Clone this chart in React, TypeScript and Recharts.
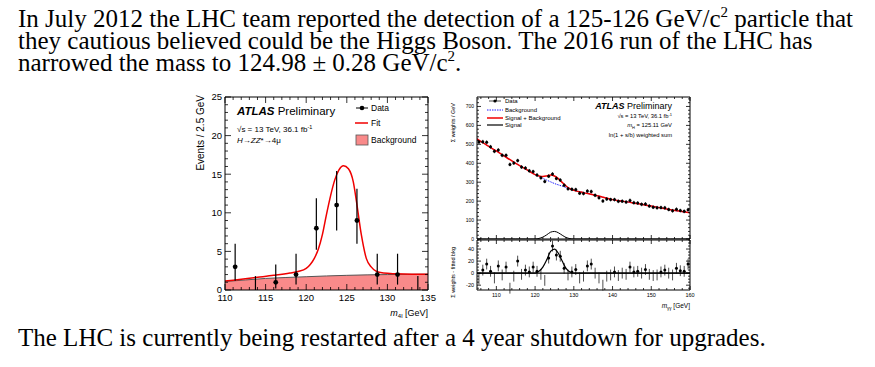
import React from "react";
import { ComposedChart, Line, Area, Scatter, XAxis, YAxis, ErrorBar, ReferenceLine } from "recharts";

const SANS = "'Liberation Sans', Arial, sans-serif";
const SERIF = "'Liberation Serif', 'Times New Roman', serif";

// ---- left panel: H -> ZZ* -> 4mu ----
const zzMass = [111.25, 113.75, 116.25, 118.75, 121.25, 123.75, 126.25, 128.75, 131.25, 133.75];
const zzEvents = [3, 0, 1, 2, 8, 11, 9, 2, 2, 0];
const zzErrLow = [1.8, 0, 0.8, 1.3, 2.8, 3.3, 3, 1.3, 1.3, 0];
const zzErrHigh = [3, 1.8, 2.3, 2.7, 3.9, 4.4, 4.1, 2.7, 2.7, 1.8];

const zzFitMass = [110, 112, 114, 116, 118, 119, 120, 120.5, 121, 121.5, 122, 122.5, 123, 123.5, 124, 124.6, 125.2, 125.8, 126.2, 126.8, 127.4, 128, 128.6, 129.5, 131, 133, 135];
const zzFit = [1.15, 1.4, 1.65, 1.9, 2.2, 2.4, 2.8, 3.3, 4.1, 5.3, 7.2, 9.8, 12.2, 14.2, 15.5, 16.1, 15.7, 14, 11.4, 7.1, 4.1, 3, 2.45, 2.2, 2.1, 2.05, 2.05];

const zzBkgMass = [110, 112.5, 115, 117.5, 120, 122.5, 125, 127.5, 130, 132.5, 135];
const zzBkg = [1.1, 1.3, 1.5, 1.62, 1.72, 1.82, 1.9, 1.96, 2.0, 2.03, 2.05];

const zzXMajor = [110, 115, 120, 125, 130, 135];
const zzYMajor = [0, 5, 10, 15, 20, 25];

// ---- right panel: H -> gamma gamma weighted ----
const ggMass = [105.5, 106.5, 107.5, 108.5, 109.5, 110.5, 111.5, 112.5, 113.5, 114.5, 115.5, 116.5, 117.5, 118.5, 119.5, 120.5, 121.5, 122.5, 123.5, 124.5, 125.5, 126.5, 127.5, 128.5, 129.5, 130.5, 131.5, 132.5, 133.5, 134.5, 135.5, 136.5, 137.5, 138.5, 139.5, 140.5, 141.5, 142.5, 143.5, 144.5, 145.5, 146.5, 147.5, 148.5, 149.5, 150.5, 151.5, 152.5, 153.5, 154.5, 155.5, 156.5, 157.5, 158.5, 159.5];
const ggData = [512, 514, 511, 487, 463, 470, 442, 442, 394, 401, 414, 380, 375, 360, 356, 338, 323, 304, 332, 343, 320, 311, 284, 265, 263, 261, 242, 240, 253, 251, 231, 218, 201, 211, 208, 208, 199, 200, 195, 204, 192, 190, 183, 185, 174, 168, 165, 166, 165, 156, 149, 157, 150, 146, 155];
const ggResid = [-10, 5, 15, 3, -8, 12, -3, 10, -25, -5, 20, -2, 5, 2, 10, 3, -2, -12, 25, 45, 30, 28, 8, -3, 2, 6, -8, -5, 12, 15, 0, -8, -20, -5, -3, 2, -4, 0, -2, 10, 2, 3, 0, 6, -2, -4, -3, 2, 5, 0, -3, 8, 4, 3, 15];
const ggDataErr = 10;
const ggResidErr = 9;

const ggFitMass = [105, 107.5, 110, 112.5, 115, 117.5, 120, 121, 122, 123, 124, 125, 126, 127, 128, 129, 130, 132.5, 135, 137.5, 140, 142.5, 145, 147.5, 150, 152.5, 155, 157.5, 160];
const ggBkg = [529, 496, 465, 432, 400, 370, 340, 330, 320, 311, 302, 293, 286, 279, 272, 264, 257, 245, 234, 221, 208, 200, 192, 183, 174, 164, 154, 146, 138];
const ggSig = [0, 0, 0, 0, 0, 0, 0, 3, 10, 22, 36, 40, 33, 20, 8, 2, 0, 0, 0, 0, 0, 0, 0, 0, 0, 0, 0, 0, 0];
const ggSB = [529, 496, 465, 432, 400, 370, 340, 333, 330, 333, 338, 333, 319, 299, 280, 266, 257, 245, 234, 221, 208, 200, 192, 183, 174, 164, 154, 146, 138];

const ggXMajor = [110, 120, 130, 140, 150, 160];
const ggYMajor = [0, 100, 200, 300, 400, 500, 600, 700];
const ggRMajor = [-20, 0, 20, 40];

const range = (a: number, b: number, s: number) => {
  const out: number[] = [];
  for (let v = a; v <= b + 1e-9; v += s) out.push(Math.round(v * 100) / 100);
  return out;
};

const zzPoints = zzMass.map((x, i) => ({ x, y: zzEvents[i], err: [zzErrLow[i], zzErrHigh[i]] }));
const zzFitData = zzFitMass.map((x, i) => ({ x, y: zzFit[i] }));
const zzBkgData = zzBkgMass.map((x, i) => ({ x, y: zzBkg[i] }));

const ggPoints = ggMass.map((x, i) => ({ x, y: ggData[i], err: ggDataErr }));
const ggResidPoints = ggMass.map((x, i) => ({ x, y: ggResid[i], err: ggResidErr }));
const ggBkgData = ggFitMass.map((x, i) => ({ x, y: ggBkg[i] }));
const ggSigData = ggFitMass.map((x, i) => ({ x, y: ggSig[i] }));
const ggSBData = ggFitMass.map((x, i) => ({ x, y: ggSB[i] }));

type Side = "bottom" | "top" | "left" | "right";

// ROOT-style inward ticks, labels only on major ticks
const inTick = (side: Side, major: number[], len: number, minorLen: number, fs: number, show: boolean) =>
  (p: any) => {
    const v = p.payload.value;
    const isMajor = major.some((m) => Math.abs(m - v) < 1e-6);
    const l = isMajor ? len : minorLen;
    const { x, y } = p;
    let line;
    if (side === "bottom") line = <line x1={x} x2={x} y1={y} y2={y - l} />;
    else if (side === "top") line = <line x1={x} x2={x} y1={y} y2={y + l} />;
    else if (side === "left") line = <line x1={x} x2={x + l} y1={y} y2={y} />;
    else line = <line x1={x} x2={x - l} y1={y} y2={y} />;
    let label = null;
    if (show && isMajor) {
      if (side === "bottom")
        label = <text x={x} y={y + fs + 1} textAnchor="middle" fontSize={fs} fill="#000" stroke="none">{v}</text>;
      else if (side === "left")
        label = <text x={x - 3} y={y + fs * 0.36} textAnchor="end" fontSize={fs} fill="#000" stroke="none">{v}</text>;
    }
    return (
      <g stroke="#000" strokeWidth={0.8} fontFamily={SANS}>
        {line}
        {label}
      </g>
    );
  };

const dotShape = (r: number) => (p: any) =>
  p.payload.y > 0 ? <circle cx={p.cx} cy={p.cy} r={r} fill="#000" /> : <g />;

// four axes with size 1 so that the frame and the inward ticks are drawn
const Frame = ({ xDomain, yDomain, xTicks, yTicks, xMajor, yMajor, len, minorLen, fs, xLabels }: any) => [
  <XAxis key="xb" xAxisId={0} dataKey="x" type="number" domain={xDomain} ticks={xTicks} interval={0} height={1}
    tickSize={0} tickMargin={0} tickLine={false} stroke="#000" allowDataOverflow
    tick={inTick("bottom", xMajor, len, minorLen, fs, xLabels)} />,
  <XAxis key="xt" xAxisId="top" orientation="top" dataKey="x" type="number" domain={xDomain} ticks={xTicks} interval={0} height={1}
    tickSize={0} tickMargin={0} tickLine={false} stroke="#000" allowDataOverflow
    tick={inTick("top", xMajor, len, minorLen, fs, false)} />,
  <YAxis key="yl" yAxisId={0} type="number" domain={yDomain} ticks={yTicks} interval={0} width={1}
    tickSize={0} tickMargin={0} tickLine={false} stroke="#000" allowDataOverflow
    tick={inTick("left", yMajor, len, minorLen, fs, true)} />,
  <YAxis key="yr" yAxisId="right" orientation="right" type="number" domain={yDomain} ticks={yTicks} interval={0} width={1}
    tickSize={0} tickMargin={0} tickLine={false} stroke="#000" allowDataOverflow
    tick={inTick("right", yMajor, len, minorLen, fs, false)} />,
];

const ZZChart = () => (
  <ComposedChart width={255} height={240} margin={{ top: 8, right: 11, bottom: 37, left: 39 }}>
    {Frame({
      xDomain: [110, 135], yDomain: [0, 25], xTicks: range(110, 135, 1), yTicks: range(0, 25, 1),
      xMajor: zzXMajor, yMajor: zzYMajor, len: 6, minorLen: 3, fs: 9.5, xLabels: true,
    })}
    <Area data={zzBkgData} dataKey="y" type="monotone" fill="#f98a8a" fillOpacity={1} stroke="#555" strokeWidth={1} isAnimationActive={false} />
    <Line data={zzFitData} dataKey="y" type="monotone" stroke="#f00000" strokeWidth={1.5} dot={false} isAnimationActive={false} />
    <Scatter data={zzPoints} dataKey="y" shape={dotShape(2.4)} isAnimationActive={false}>
      <ErrorBar dataKey="err" direction="y" width={0} stroke="#000" strokeWidth={1.2} />
    </Scatter>
  </ComposedChart>
);

const GGUpper = () => (
  <ComposedChart width={260} height={156} margin={{ top: 8, right: 9, bottom: 4, left: 36 }}>
    {Frame({
      xDomain: [105, 160], yDomain: [0, 750], xTicks: range(106, 160, 2), yTicks: range(0, 740, 20),
      xMajor: ggXMajor, yMajor: ggYMajor, len: 4, minorLen: 2, fs: 5, xLabels: false,
    })}
    <Line data={ggSigData} dataKey="y" type="monotone" stroke="#000" strokeWidth={1} dot={false} isAnimationActive={false} />
    <Line data={ggBkgData} dataKey="y" type="monotone" stroke="#2020ff" strokeWidth={1} strokeDasharray="1.5 1" dot={false} isAnimationActive={false} />
    <Line data={ggSBData} dataKey="y" type="monotone" stroke="#f00000" strokeWidth={1.5} dot={false} isAnimationActive={false} />
    <Scatter data={ggPoints} dataKey="y" shape={dotShape(1.5)} isAnimationActive={false}>
      <ErrorBar dataKey="err" direction="y" width={0} stroke="#000" strokeWidth={0.7} />
    </Scatter>
  </ComposedChart>
);

const GGLower = () => (
  <ComposedChart width={260} height={70} margin={{ top: 1, right: 9, bottom: 17, left: 36 }}>
    {Frame({
      xDomain: [105, 160], yDomain: [-28, 55], xTicks: range(106, 160, 2), yTicks: range(-25, 55, 5),
      xMajor: ggXMajor, yMajor: ggRMajor, len: 4, minorLen: 2, fs: 5.5, xLabels: true,
    })}
    <ReferenceLine y={0} stroke="#000" strokeWidth={1.3} />
    <Line data={ggSigData} dataKey="y" type="monotone" stroke="#000" strokeWidth={1.2} dot={false} isAnimationActive={false} />
    <Scatter data={ggResidPoints} dataKey="y" shape={dotShape(1.5)} isAnimationActive={false}>
      <ErrorBar dataKey="err" direction="y" width={0} stroke="#000" strokeWidth={0.7} />
    </Scatter>
  </ComposedChart>
);

const Annotations = () => (
  <svg width={875} height={367} style={{ position: "absolute", left: 0, top: 0, pointerEvents: "none" }}>
    <g fontFamily={SERIF} fontSize={25} fill="#000">
      <text x={18} y={27}>
        In July 2012 the LHC team reported the detection of a 125-126 GeV/c
        <tspan dy={-10} fontSize={15}>2</tspan>
        <tspan dy={10}>{" particle that"}</tspan>
      </text>
      <text x={18} y={49}>they cautious believed could be the Higgs Boson. The 2016 run of the LHC has</text>
      <text x={18} y={71}>
        {"narrowed the mass to 124.98 \u00b1 0.28 GeV/c"}
        <tspan dy={-10} fontSize={15}>2</tspan>
        <tspan dy={10}>.</tspan>
      </text>
      <text x={18} y={346}>The LHC is currently being restarted after a 4 year shutdown for upgrades.</text>
    </g>

    <g fontFamily={SANS} fill="#000">
      {/* left panel */}
      <text x={237} y={115} fontSize={11.5}>
        <tspan fontWeight="bold" fontStyle="italic">ATLAS</tspan>
        <tspan>{" Preliminary"}</tspan>
      </text>
      <text x={237} y={131.5} fontSize={8}>
        {"\u221As = 13 TeV, 36.1 fb"}
        <tspan dy={-3} fontSize={5.5}>-1</tspan>
      </text>
      <text x={237} y={142.5} fontSize={8}>
        <tspan fontStyle="italic">H</tspan>
        {"\u2192"}
        <tspan fontStyle="italic">ZZ</tspan>
        {"*\u21924\u03bc"}
      </text>
      <line x1={356} x2={368} y1={108} y2={108} stroke="#000" strokeWidth={1} />
      <circle cx={362} cy={108} r={2.3} fill="#000" />
      <text x={371} y={111} fontSize={8.5}>Data</text>
      <line x1={355} x2={368} y1={123} y2={123} stroke="#f00000" strokeWidth={1.5} />
      <text x={371} y={126} fontSize={8.5}>Fit</text>
      <rect x={356} y={135} width={12} height={10} fill="#f98a8a" stroke="#555" strokeWidth={0.8} />
      <text x={371} y={143} fontSize={8.5}>Background</text>
      <text transform="translate(204,95) rotate(-90)" textAnchor="end" fontSize={10}>Events / 2.5 GeV</text>
      <text x={428} y={316} textAnchor="end" fontSize={9}>
        <tspan fontStyle="italic">m</tspan>
        <tspan dy={2} fontSize={6}>4l</tspan>
        <tspan dy={-2}>{" [GeV]"}</tspan>
      </text>

      {/* right panel */}
      <line x1={489} x2={501} y1={101} y2={101} stroke="#000" strokeWidth={0.7} />
      <circle cx={495} cy={101} r={1.6} fill="#000" />
      <text x={505} y={103} fontSize={6}>Data</text>
      <line x1={487} x2={503} y1={110} y2={110} stroke="#2020ff" strokeWidth={1} strokeDasharray="1.5 1" />
      <text x={505} y={112} fontSize={6}>Background</text>
      <line x1={487} x2={503} y1={118} y2={118} stroke="#f00000" strokeWidth={1.5} />
      <text x={505} y={120} fontSize={6}>Signal + Background</text>
      <line x1={487} x2={503} y1={125} y2={125} stroke="#000" strokeWidth={1.2} />
      <text x={505} y={127} fontSize={6}>Signal</text>

      <text x={672} y={109} textAnchor="end" fontSize={9}>
        <tspan fontWeight="bold" fontStyle="italic">ATLAS</tspan>
        <tspan>{" Preliminary"}</tspan>
      </text>
      <text x={672} y={118} textAnchor="end" fontSize={5.8}>
        {"\u221As = 13 TeV, 36.1 fb"}
        <tspan dy={-2} fontSize={4}>-1</tspan>
      </text>
      <text x={672} y={127} textAnchor="end" fontSize={5.8}>
        <tspan fontStyle="italic">m</tspan>
        <tspan dy={1.5} fontSize={4}>H</tspan>
        <tspan dy={-1.5}>{" = 125.11 GeV"}</tspan>
      </text>
      <text x={672} y={137} textAnchor="end" fontSize={5.8}>ln(1 + s/b) weighted sum</text>
      <text transform="translate(455,103) rotate(-90)" textAnchor="end" fontSize={5.5}>{"\u03a3 weights / GeV"}</text>
      <text transform="translate(455,247) rotate(-90)" textAnchor="end" fontSize={5.5}>{"\u03a3 weights - fitted bkg"}</text>
      <text x={690} y={308} textAnchor="end" fontSize={6.5}>
        <tspan fontStyle="italic">m</tspan>
        <tspan dy={1.5} fontSize={4.5}>{"\u03b3\u03b3"}</tspan>
        <tspan dy={-1.5}>{" [GeV]"}</tspan>
      </text>
    </g>
  </svg>
);

export default function App() {
  return (
    <div style={{ position: "absolute", left: 0, top: 0, width: 875, height: 367, background: "#fff" }}>
      <div style={{ position: "absolute", left: 185, top: 88 }}>
        <ZZChart />
      </div>
      <div style={{ position: "absolute", left: 440, top: 88 }}>
        <GGUpper />
      </div>
      <div style={{ position: "absolute", left: 440, top: 238 }}>
        <GGLower />
      </div>
      <Annotations />
    </div>
  );
}
